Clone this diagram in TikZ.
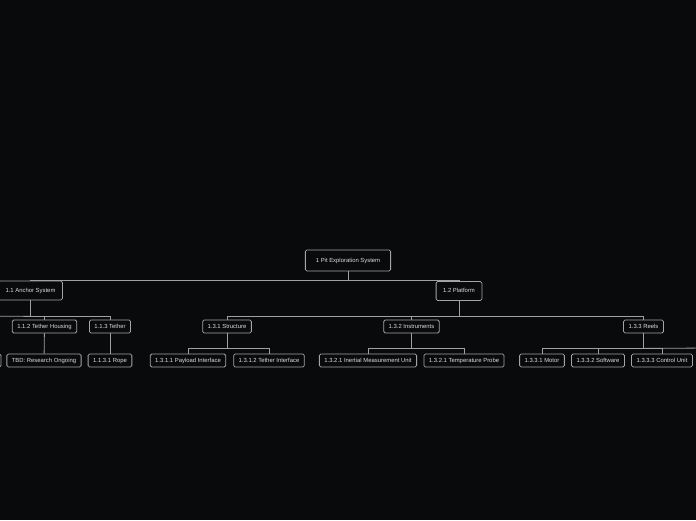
\documentclass[tikz,border=0pt]{standalone}
\usepackage{fontspec}
\setmainfont{Liberation Sans}
\usepackage{tikz}
\usetikzlibrary{positioning, calc}
\usepackage{xcolor}
\definecolor{NightBg}{RGB}{9,10,12}
\definecolor{FrameGray}{RGB}{165,165,165}
\definecolor{LinkGray}{RGB}{160,160,160}
\definecolor{LabelGray}{RGB}{220,220,220}

\begin{document}
\begin{tikzpicture}[x=1pt, y=-1pt,
          wbs/.style={rectangle, draw=FrameGray, line width=0.8pt, rounded corners=1.5pt, text=LabelGray, font=\fontsize{5.9}{7}\selectfont, inner ysep=0pt, text height=4.3pt, text depth=0.5pt},
          rootbox/.style={wbs, minimum height=21pt, inner xsep=10.5pt},
          mainbox/.style={wbs, minimum height=19pt, inner xsep=7pt},
          subbox/.style={wbs, minimum height=13pt, inner xsep=5pt},
          link/.style={draw=LinkGray, line width=0.8pt}
        ]
          \fill[NightBg] (0,0) rectangle (696,520);
          \useasboundingbox (0,0) rectangle (696,520);

          \node (root) [rootbox] at (348,260.5) {1 Pit Exploration System};

          \node (anchor) [mainbox] at (30.5,290.5) {1.1 Anchor System};
          \node (platform) [mainbox] at (459,291) {1.2 Platform};

          \node (housing) [subbox] at (44.5,326.5) {1.1.2 Tether Housing};
          \node (tether) [subbox] at (110,326.5) {1.1.3 Tether};
          \node (structure) [subbox] at (227,326.5) {1.3.1 Structure};
          \node (instruments) [subbox] at (411.5,326.5) {1.3.2 Instruments};
          \node (reels) [subbox] at (643.5,326.5) {1.3.3 Reels};

          \node (tbd) [subbox] at (44,360.5) {TBD: Research Ongoing};
          \node (rope) [subbox] at (110,360.5) {1.1.3.1 Rope};
          \node (payload) [subbox] at (188,360.5) {1.3.1.1 Payload Interface};
          \node (tetherif) [subbox] at (269,360.5) {1.3.1.2 Tether Interface};
          \node (imu) [subbox] at (368,360.5) {1.3.2.1 Inertial Measurement Unit};
          \node (probe) [subbox] at (464,360.5) {1.3.2.1 Temperature Probe};
          \node (motor) [subbox] at (542,360.5) {1.3.3.1 Motor};
          \node (software) [subbox] at (598,360.5) {1.3.3.2 Software};
          \node (control) [subbox] at (662,360.5) {1.3.3.3 Control Unit};

          % branches cut off by the page edges
          \node (leftcut) [subbox, minimum width=40pt] at (-19,360.5) {};
          \coordinate (anchormore) at (-20,316);
          \coordinate (reelsmore) at (710,348);

          \foreach \c in {anchor, platform}
            \draw[link] (root.south) -- ++(0,9) -| (\c.north);
          \foreach \c in {housing, tether}
            \draw[link] (anchor.south) -- ++(0,16) -| (\c.north);
          \draw[link] (anchor.south) -- ++(0,16) -- (anchormore);
          \foreach \c in {structure, instruments, reels}
            \draw[link] (platform.south) -- ++(0,15) -| (\c.north);
          \draw[link] (housing) -- (tbd);
          \draw[link] (tether) -- (rope);
          \foreach \c in {payload, tetherif}
            \draw[link] (structure.south) -- ++(0,15) -| (\c.north);
          \foreach \c in {imu, probe}
            \draw[link] (instruments.south) -- ++(0,15) -| (\c.north);
          \foreach \c in {motor, software, control}
            \draw[link] (reels.south) -- ++(0,15) -| (\c.north);
          \draw[link] (reels.south) -- ++(0,15) -- (reelsmore);
        \end{tikzpicture}
\end{document}
